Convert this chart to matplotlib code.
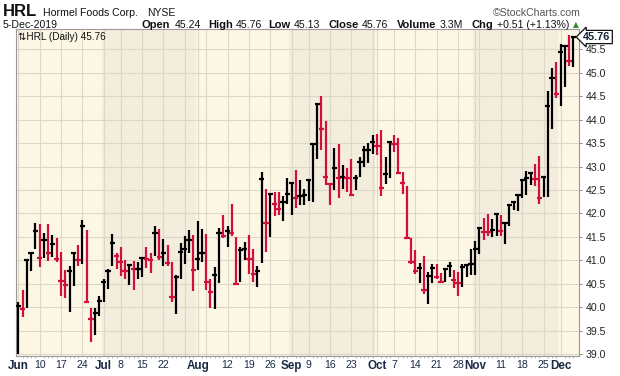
import matplotlib
matplotlib.use("Agg")
import matplotlib.pyplot as plt
import numpy as np
import pandas as pd

# ---------------- data ----------------
holidays = ["2019-07-04", "2019-09-02", "2019-11-28"]
dates = [d for d in pd.bdate_range("2019-06-03", "2019-12-05")
         if d.strftime("%Y-%m-%d") not in holidays]

highs = [40.10, 40.36, 41.02, 41.16, 41.80, 41.77, 41.59, 41.77, 41.54, 41.47,
         41.17, 40.79, 40.88, 41.17, 41.32, 41.86, 41.64, 39.99, 39.99, 40.24,
         40.60, 40.81, 41.56, 41.15, 41.28, 41.01, 40.91, 40.98, 40.97, 41.06,
         41.28, 41.15, 41.73, 41.66, 41.45, 41.33, 40.97, 40.68, 41.37, 41.52,
         41.64, 41.54, 41.84, 41.67, 41.56, 40.60, 40.85, 41.68, 41.97, 41.74,
         42.20, 41.49, 41.28, 41.40, 41.54, 41.24, 40.88, 42.88, 42.53, 42.43,
         42.46, 42.46, 42.38, 42.75, 42.68, 42.92, 42.71, 42.53, 42.73, 43.48,
         44.33, 44.50, 43.97, 42.64, 43.39, 43.49, 43.03, 42.96, 43.17, 42.82,
         43.20, 43.44, 43.51, 43.67, 43.69, 43.78, 43.20, 43.53, 43.67, 43.60,
         42.88, 42.58, 41.47, 41.22, 40.95, 41.09, 40.74, 40.93, 40.93, 40.73,
         40.83, 40.96, 40.79, 40.74, 40.92, 40.93, 41.25, 41.41, 41.71, 41.91,
         41.98, 41.87, 42.00, 41.96, 41.80, 42.18, 42.27, 42.40, 42.73, 42.91,
         42.89, 43.06, 43.22, 42.79, 44.60, 45.11, 45.22, 45.61, 45.57, 45.80,
         45.76]
lows = [39.00, 39.80, 39.99, 40.78, 41.25, 40.85, 41.04, 40.99, 41.08, 40.97,
        40.24, 40.20, 39.90, 40.46, 40.88, 40.92, 40.12, 39.26, 39.40, 39.81,
        40.12, 40.39, 40.88, 40.81, 40.67, 40.60, 40.47, 40.36, 40.60, 40.65,
        40.84, 40.72, 41.09, 41.00, 40.88, 40.88, 40.10, 39.85, 40.59, 40.93,
        41.15, 40.35, 40.79, 40.97, 40.36, 39.99, 39.95, 40.51, 41.47, 41.29,
        41.52, 40.49, 40.53, 41.00, 40.70, 40.54, 40.42, 40.95, 41.18, 41.50,
        41.95, 41.96, 41.84, 42.21, 41.97, 42.11, 42.18, 42.18, 42.27, 42.25,
        43.17, 43.35, 42.60, 42.18, 42.50, 42.33, 42.53, 42.46, 42.38, 42.50,
        42.77, 42.98, 43.08, 43.26, 43.24, 42.38, 42.62, 42.75, 43.30, 42.84,
        42.41, 41.48, 40.91, 40.71, 40.51, 40.27, 40.06, 40.51, 40.59, 40.51,
        40.54, 40.65, 40.40, 40.24, 40.42, 40.65, 40.68, 40.68, 41.14, 41.43,
        41.52, 41.50, 41.52, 41.52, 41.34, 41.73, 42.07, 42.05, 42.32, 42.39,
        42.60, 42.58, 42.21, 42.35, 42.35, 43.80, 44.47, 44.30, 44.70, 45.15,
        45.13]
closes = [40.03, 39.97, 41.00, 41.15, 41.63, 41.05, 41.43, 41.15, 41.34, 41.03,
          40.56, 40.47, 40.77, 41.15, 41.00, 41.74, 40.12, 39.74, 39.88, 40.14,
          40.53, 40.78, 41.36, 41.10, 40.97, 40.78, 40.90, 40.81, 40.82, 41.04,
          41.02, 41.00, 41.59, 41.08, 41.16, 40.95, 40.22, 40.65, 41.18, 41.24,
          41.44, 40.79, 41.03, 41.16, 40.53, 40.33, 40.69, 41.59, 41.52, 41.63,
          41.59, 40.49, 41.22, 41.25, 41.02, 40.71, 40.78, 42.73, 41.80, 42.41,
          42.21, 42.09, 42.25, 42.41, 42.64, 42.33, 42.37, 42.39, 42.71, 43.47,
          44.33, 43.79, 42.78, 42.63, 42.97, 42.76, 42.77, 42.75, 42.39, 42.76,
          43.10, 43.35, 43.36, 43.53, 43.43, 42.55, 42.85, 43.53, 43.48, 42.87,
          42.64, 41.48, 40.97, 40.78, 40.83, 40.36, 40.67, 40.83, 40.65, 40.53,
          40.81, 40.88, 40.58, 40.51, 40.86, 40.90, 40.91, 41.25, 41.69, 41.61,
          41.60, 41.64, 41.98, 41.62, 41.80, 42.17, 42.25, 42.39, 42.71, 42.76,
          42.87, 42.73, 42.33, 42.78, 44.29, 44.89, 44.55, 45.45, 45.56, 45.25,
          45.76]

tick_dates = ["2019-06-03", "2019-06-10", "2019-06-17", "2019-06-24", "2019-07-01",
              "2019-07-08", "2019-07-15", "2019-07-22", "2019-08-01", "2019-08-12",
              "2019-08-19", "2019-08-26", "2019-09-03", "2019-09-09", "2019-09-16",
              "2019-09-23", "2019-10-01", "2019-10-07", "2019-10-14", "2019-10-21",
              "2019-10-28", "2019-11-01", "2019-11-11", "2019-11-18", "2019-11-25",
              "2019-12-02"]
tick_labels = ["Jun", "10", "17", "24", "Jul", "8", "15", "22", "Aug", "12",
               "19", "26", "Sep", "9", "16", "23", "Oct", "7", "14", "21",
               "28", "Nov", "11", "18", "25", "Dec"]
y_ticks = [39.0, 39.5, 40.0, 40.5, 41.0, 41.5, 42.0, 42.5, 43.0, 43.5, 44.0, 44.5, 45.0, 45.5]

# ---------------- figure ----------------
W, H = 620, 376
fig = plt.figure(figsize=(W / 100, H / 100), dpi=100)
fig.patch.set_facecolor("white")
plt.rcParams['font.family'] = ['Liberation Sans', 'DejaVu Sans']

L, R, T, B = 16, 579, 29, 356
ax = fig.add_axes([L / W, 1 - B / H, (R - L) / W, (B - T) / H])

n = len(dates)
x = np.arange(n)
date_str = [d.strftime("%Y-%m-%d") for d in dates]
idx_of = {s: i for i, s in enumerate(date_str)}

xmin = -(18.3 - L) / 4.27
xmax = xmin + (R - L) / 4.27
ax.set_xlim(xmin, xmax)
ax.set_ylim(38.958, 45.933)

# month shading
light, dark = "#FCF6E4", "#F3EDDD"
month_starts = [i for i in range(n) if i == 0 or dates[i].month != dates[i - 1].month]
bounds = [xmin] + [m - 0.5 for m in month_starts[1:]] + [xmax]
for k in range(len(bounds) - 1):
    ax.axvspan(bounds[k], bounds[k + 1], color=light if k % 2 == 0 else dark, lw=0, zorder=0)

# gridlines: week starts and month starts
week_starts = {i for i in range(n) if i == 0 or dates[i].weekday() < dates[i - 1].weekday()}
grid_idx = sorted(set(month_starts) | week_starts)
grid_c = "#DFD7C6"
for gi in grid_idx:
    ax.axvline(gi, color=grid_c, lw=0.8, zorder=0.5)
for yv in y_ticks:
    ax.axhline(yv, color=grid_c, lw=0.8, zorder=0.5)

# bars
colors = ["#000000"] + ["#D0103A" if closes[i] < closes[i - 1] else "#000000" for i in range(1, n)]
ax.vlines(x, lows, highs, colors=colors, lw=1.6, zorder=3, capstyle="butt")
ax.hlines(closes, x - 0.62, x + 0.62, colors=colors, lw=1.6, zorder=3, capstyle="butt")

# axes styling
for s in ax.spines.values():
    s.set_color("#9A9A9A")
    s.set_linewidth(0.8)
ax.yaxis.tick_right()
ax.set_yticks(y_ticks)
ax.set_yticklabels([f"{v:.1f}" for v in y_ticks])
ax.tick_params(axis="y", which="major", length=2.5, width=0.6, color="#777777",
               labelsize=7.6, labelcolor="#222222", pad=2)

xt = [idx_of[d] for d in tick_dates]
ax.set_xticks(xt)
ax.set_xticklabels(tick_labels)
ax.tick_params(axis="x", which="major", length=0, pad=3, labelsize=7.6, labelcolor="#1B2A44")
for lab in ax.get_xticklabels():
    if lab.get_text().isalpha():
        lab.set_fontweight("bold")
        lab.set_fontsize(8.4)
ax.set_xticks(x, minor=True)
ax.tick_params(axis="x", which="minor", length=1.5, width=0.5, color="#999999")

# legend inside plot
ax.text(0.004, 0.992, "⇅HRL (Daily) 45.76", transform=ax.transAxes, ha="left", va="top",
        fontsize=7.2, color="#111111", zorder=5)

# current value tag
fig.text(597 / W, 1 - 37 / H, "45.76", ha="center", va="center", fontsize=7.8,
         fontweight="bold", color="#14233A",
         bbox=dict(boxstyle="larrow,pad=0.15", fc="white", ec="#111111", lw=0.9))

# header
def ft(xp, yp, s, **kw):
    fig.text(xp / W, 1 - yp / H, s, va="baseline", ha="left", **kw)

ft(3, 16, "HRL", fontsize=12, fontweight="bold", color="#111111")
ft(43, 15.5, "Hormel Foods Corp.", fontsize=7.6, color="#111111")
ft(147, 15.5, "NYSE", fontsize=7.5, color="#111111")
fig.text(581 / W, 1 - 15.5 / H, "©StockCharts.com", ha="right", va="baseline",
         fontsize=7.6, color="#555555")
ft(3, 27.5, "5-Dec-2019", fontsize=7.6, color="#111111")

pieces = [(141.7, "Open", True), (174.6, "45.24", False), (208, "High", True),
          (236, "45.76", False), (268, "Low", True), (294, "45.13", False),
          (328.6, "Close", True), (362, "45.76", False), (397, "Volume", True),
          (440, "3.3M", False), (472, "Chg", True), (497, "+0.51 (+1.13%)", False)]
for xp, s, bold in pieces:
    ft(xp, 27.5, s, fontsize=8.0 if bold else 7.6,
       fontweight="bold" if bold else "normal", color="#111111")
ft(573, 27, "▲", fontsize=5.5, color="#2E8B2E", family=["DejaVu Sans"])

fig.savefig("out.png", dpi=100, facecolor="white")
